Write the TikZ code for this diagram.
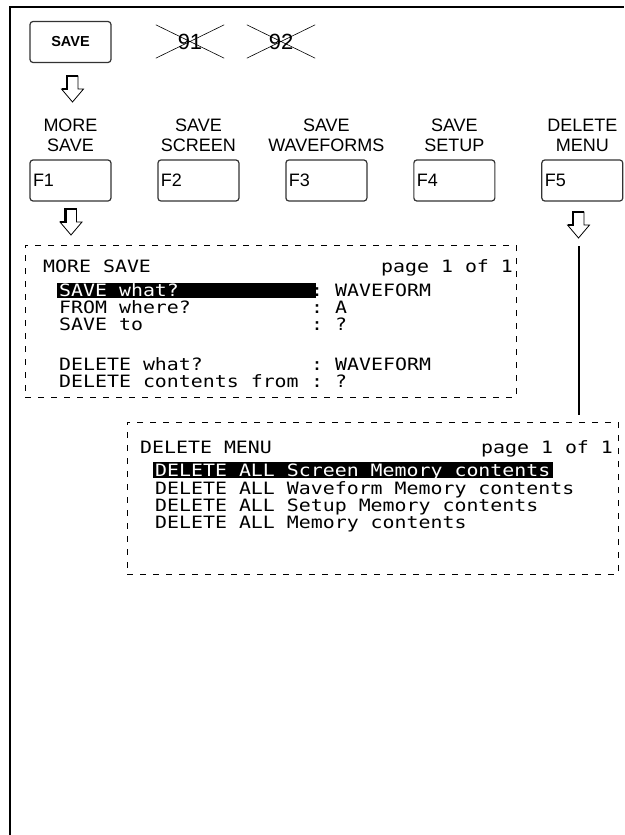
\documentclass[tikz,border=0pt]{standalone}
\usepackage{fontspec}
\setmainfont{Liberation Sans}
\newfontfamily\lcdfont[FakeStretch=1.17]{DejaVu Sans Mono}
\usetikzlibrary{positioning}

\tikzset{
  key/.style={draw=black!80, line width=1.2pt, rounded corners=3pt, minimum width=81pt, minimum height=41pt, inner sep=0pt},
  fkey/.style={key, inner xsep=3pt, text width=75pt, align=left, font=\fontsize{18}{20}\selectfont},
  keycap/.style={align=center, inner sep=0pt, font=\fontsize{18}{20}\selectfont},
  struck/.style={minimum width=68pt, minimum height=33pt, inner sep=0pt, font=\fontsize{22}{22}\selectfont},
  screen/.style={draw, dash pattern=on 6pt off 7pt, line width=0.9pt, minimum width=491pt, minimum height=152pt, inner sep=0pt},
  lcd/.style={anchor=base west, inner sep=0pt, font=\lcdfont\fontsize{17}{17}\selectfont},
  hollowdown/.pic={
    \draw[line width=0.8pt, fill=white] (-5.5,0) -- (5.5,0) -- (5.5,13) -- (11,13) -- (0,26) -- (-11,13) -- (-5.5,13) -- cycle;
    \draw[line width=2.4pt] (5.5,0) -- (-5.5,0) -- (-5.5,13) -- (-11,13);
  }
}

\begin{document}
\begin{tikzpicture}[x=1pt, y=-1pt]
\useasboundingbox (0,0) rectangle (624,835);
\draw[line width=2pt] (9.5,835) -- (9.5,6.5) -- (624,6.5);

% top row
\node[key, font=\bfseries\fontsize{14.5}{16}\selectfont] (save) at (70.5,42) {SAVE};
\node[struck] (k91) at (190,41.5) {91};
\node[struck] (k92) at (281,41.5) {92};
\draw[line width=0.6pt] (k91.north west) -- (k91.south east) (k91.south west) -- (k91.north east);
\draw[line width=0.6pt] (k92.north west) -- (k92.south east) (k92.south west) -- (k92.north east);
\pic at (72.5,76) {hollowdown};

% softkeys
\node[fkey] (f1) at (70.5,180.5) {F1};
\node[fkey, right=45.75pt of f1] (f2) {F2};
\node[fkey, right=45.75pt of f2] (f3) {F3};
\node[fkey, right=45.75pt of f3] (f4) {F4};
\node[fkey, right=45.75pt of f4] (f5) {F5};
\node[keycap, above=8pt of f1] (cap1) {MORE\\SAVE};
\node[keycap, above=8pt of f2] (cap2) {SAVE\\SCREEN};
\node[keycap, above=8pt of f3] (cap3) {SAVE\\WAVEFORMS};
\node[keycap, above=8pt of f4] (cap4) {SAVE\\SETUP};
\node[keycap, above=8pt of f5] (cap5) {DELETE\\MENU};
\pic at (71,209) {hollowdown};
\pic at (578.5,212) {hollowdown};

% MORE SAVE screen
\node[screen] (box1) at (270.5,321) {};
\node[lcd] (t1) at (43,272) {MORE SAVE};
\node[lcd] (p1) at (381,272) {page 1 of 1};
\fill (57,283) rectangle (316,297.5);
\node[lcd, text=white] (r1) at (59,296) {SAVE what?};
\node[lcd] (c1) at (311,296) {:};
\node[lcd] (v1) at (335,296) {WAVEFORM};
\node[lcd] (r2) at (59,313) {FROM where?};
\node[lcd] (c2) at (311,313) {:};
\node[lcd] (v2) at (335,313) {A};
\node[lcd] (r3) at (59,330) {SAVE to};
\node[lcd] (c3) at (311,330) {:};
\node[lcd] (v3) at (335,330) {?};
\node[lcd] (r4) at (59,370.5) {DELETE what?};
\node[lcd] (c4) at (311,370.5) {:};
\node[lcd] (v4) at (335,370.5) {WAVEFORM};
\node[lcd] (r5) at (59,387.5) {DELETE contents from};
\node[lcd] (c5) at (311,387.5) {:};
\node[lcd] (v5) at (335,387.5) {?};

% DELETE MENU screen
\node[screen] (box2) at (372.5,498) {};
\coordinate (dtop) at (578.5,246);
\coordinate (dend) at (578.5,415);
\draw[line width=2pt] (dtop) -- (dend);
\node[lcd] (t2) at (140,453) {DELETE MENU};
\node[lcd] (p2) at (481,453) {page 1 of 1};
\fill (153,462) rectangle (553,477.5);
\node[lcd, text=white] (d1) at (155,476.5) {DELETE ALL Screen Memory contents};
\node[lcd] (d2) at (155,494.5) {DELETE ALL Waveform Memory contents};
\node[lcd] (d3) at (155,511.5) {DELETE ALL Setup Memory contents};
\node[lcd] (d4) at (155,528.5) {DELETE ALL Memory contents};
\end{tikzpicture}
\end{document}
